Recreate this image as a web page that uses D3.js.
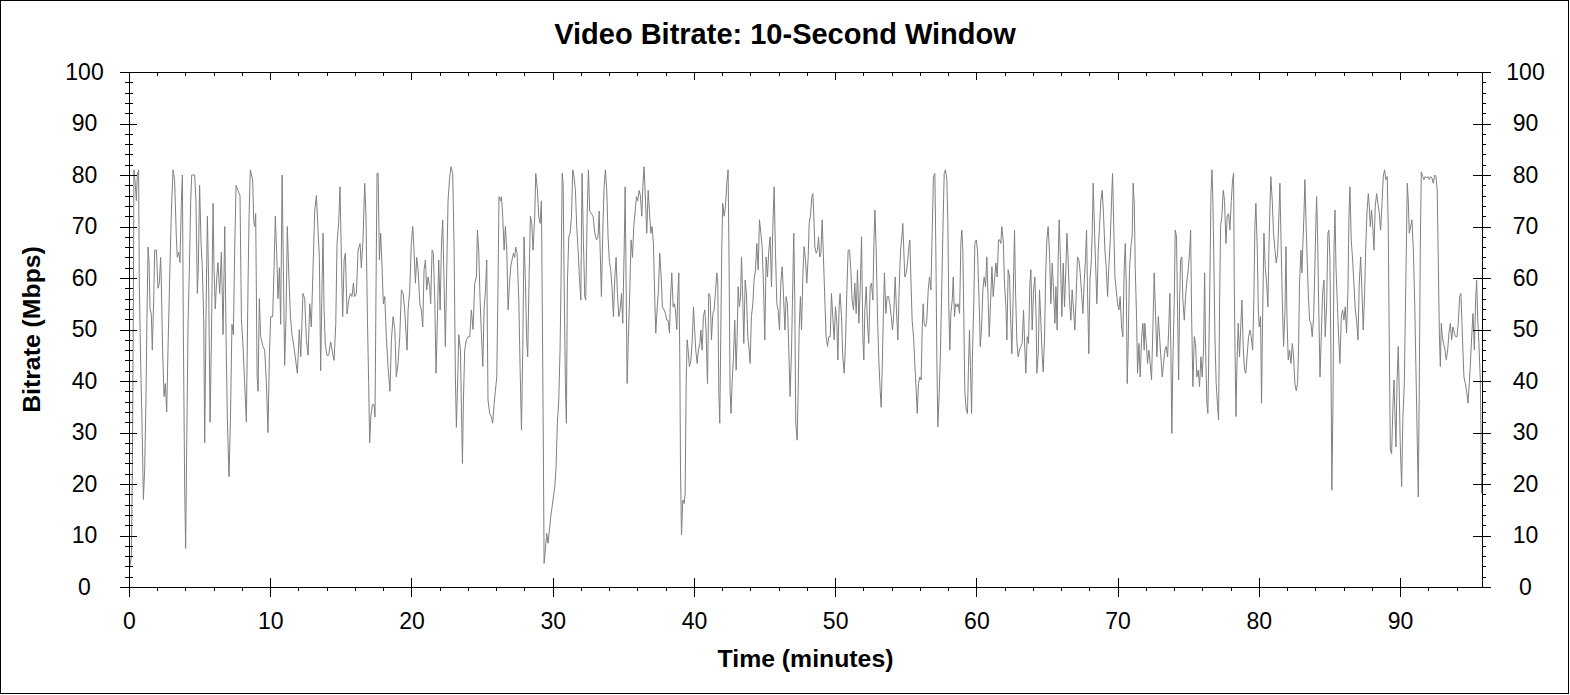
<!DOCTYPE html>
<html lang="en">
<head>
  <meta charset="UTF-8">
  <title>Video Bitrate: 10-Second Window</title>
  <script src="https://d3js.org/d3.v7.min.js"></script>
  <style>
    html, body {
      margin: 0;
      padding: 0;
      background: #fff;
    }
    body {
      font-family: "Liberation Sans", Arial, sans-serif;
    }
    .axis path, .axis line {
      stroke: #000;
      shape-rendering: crispEdges;
    }
    .axis text {
      font-family: "Liberation Sans", Arial, sans-serif;
      fill: #000;
    }
  </style>
</head>
<body>
  <div id="chart"></div>

  <script>
    // time in minutes and 10-second window bitrate (Mbps)
    const timeMin = [
      0.05,0.17,0.24,0.31,0.35,0.45,0.52,0.59,0.68,0.73,
      0.83,0.92,1.02,1.11,1.20,1.27,1.35,1.42,1.49,1.58,
      1.65,1.75,1.82,1.94,2.05,2.15,2.24,2.29,2.38,2.48,
      2.57,2.67,2.76,2.88,3.00,3.12,3.23,3.35,3.42,3.52,
      3.61,3.71,3.78,3.85,3.94,4.01,4.11,4.18,4.30,4.37,
      4.44,4.53,4.65,4.74,4.84,4.91,5.00,5.10,5.19,5.29,
      5.36,5.45,5.55,5.64,5.74,5.83,5.95,6.02,6.11,6.21,
      6.30,6.42,6.54,6.66,6.78,6.87,6.96,7.08,7.18,7.29,
      7.39,7.48,7.58,7.72,7.86,7.96,8.07,8.19,8.31,8.43,
      8.50,8.59,8.76,8.83,8.90,8.97,9.07,9.14,9.23,9.32,
      9.49,9.61,9.73,9.84,9.94,10.03,10.17,10.27,10.36,10.46,
      10.55,10.65,10.74,10.84,10.93,11.02,11.12,11.21,11.31,11.43,
      11.54,11.66,
      11.92,12.06,12.16,12.32,12.44,12.56,12.68,12.80,12.91,13.03,
      13.15,13.27,13.39,13.48,13.57,13.67,13.74,13.81,13.90,14.02,
      14.14,14.28,14.38,14.52,14.64,14.73,14.85,14.94,15.04,15.13,
      15.23,15.32,15.44,15.56,15.68,15.79,15.89,15.98,16.10,16.22,
      16.36,16.45,16.57,16.69,16.78,16.88,16.97,17.04,17.12,17.23,
      17.35,17.42,17.49,17.56,17.64,17.73,17.82,17.92,18.01,18.11,
      18.22,18.34,18.48,18.58,18.70,18.82,18.93,19.05,19.17,19.29,
      19.41,19.52,19.59,19.69,19.76,19.88,19.99,20.09,20.18,20.28,
      20.37,20.47,20.59,20.70,20.80,20.89,20.99,21.08,21.18,21.29,
      21.36,21.46,21.55,21.65,21.74,21.84,21.93,22.03,22.12,22.21,
      22.31,22.40,22.50,22.59,22.71,22.80,22.92,23.02,23.11,23.18,
      23.28,23.35,23.47,23.54,23.61,23.68,23.77,
      23.89,24.01,24.13,24.24,24.36,24.48,24.60,24.67,24.76,24.86,
      24.95,25.05,25.14,25.24,25.33,25.42,25.54,25.66,25.75,25.85,
      25.94,26.04,26.13,26.20,26.30,26.37,26.46,26.56,26.65,26.75,
      26.84,26.94,27.03,27.12,27.22,27.31,27.38,27.48,27.60,27.69,
      27.79,27.88,27.97,28.07,28.16,28.23,28.33,28.42,28.52,28.61,
      28.73,28.80,28.92,29.01,29.11,29.20,29.27,29.34,29.39,29.48,
      29.58,29.67,29.77,29.86,29.96,30.05,30.15,30.24,30.33,30.43,
      30.52,30.59,30.67,30.74,30.81,30.90,30.97,31.04,31.14,31.23,
      31.33,31.42,31.51,31.61,31.70,31.80,31.89,31.99,32.08,32.18,
      32.27,32.34,32.44,32.53,32.62,32.74,32.86,32.98,33.10,33.21,
      33.29,33.38,33.45,33.55,33.64,33.73,33.83,33.92,34.02,34.11,
      34.21,34.30,34.40,34.49,34.58,34.68,34.77,34.87,34.96,35.06,
      35.13,35.20,35.27,35.36,35.46,35.55,35.65,35.74,35.84,35.93,
      36.02,
      36.12,36.21,36.31,36.38,36.47,36.57,36.66,36.76,36.85,36.95,
      37.04,37.13,37.23,37.30,37.39,37.49,37.58,37.68,37.77,37.89,
      37.98,38.08,38.17,38.27,38.34,38.43,38.53,38.62,38.69,38.79,
      38.86,38.93,39.00,39.05,39.12,39.21,39.31,39.38,39.45,39.52,
      39.59,39.68,39.78,39.87,39.97,40.04,40.13,40.23,40.32,40.42,
      40.49,40.58,40.67,40.77,40.86,40.96,41.05,41.15,41.24,41.34,
      41.43,41.52,41.62,41.69,41.76,41.83,41.90,41.97,42.04,42.14,
      42.23,42.33,42.42,42.49,42.56,42.63,42.70,42.80,42.89,42.99,
      43.06,43.13,43.22,43.30,43.37,43.46,43.53,43.63,43.72,43.81,
      43.91,43.98,44.07,44.17,44.26,44.36,44.45,44.55,44.64,44.74,
      44.83,44.92,45.02,45.11,45.21,45.30,45.40,45.49,45.59,45.68,
      45.77,45.87,45.96,46.06,46.15,46.25,46.34,46.44,46.53,46.62,
      46.72,46.81,46.91,47.00,47.07,47.14,47.21,47.31,47.38,47.45,
      47.54,47.62,47.71,47.80,47.90,47.99,48.09,48.16,
      48.25,48.35,48.42,48.49,48.56,48.66,48.75,48.82,48.91,48.99,
      49.08,49.17,49.27,49.36,49.46,49.55,49.65,49.74,49.83,49.93,
      50.02,50.12,50.19,50.28,50.35,50.45,50.54,50.64,50.73,50.83,
      50.92,51.02,51.11,51.20,51.30,51.39,51.49,51.58,51.68,51.77,
      51.87,51.96,52.03,52.10,52.20,52.29,52.38,52.48,52.57,52.67,
      52.74,52.81,52.90,53.00,53.09,53.19,53.26,53.35,53.42,53.49,
      53.59,53.68,53.78,53.87,53.97,54.06,54.15,54.25,54.34,54.44,
      54.53,54.63,54.72,54.79,54.86,54.93,55.03,55.12,55.22,55.29,
      55.36,55.45,55.55,55.64,55.74,55.81,55.90,56.00,56.09,56.16,
      56.23,56.30,56.40,56.49,56.59,56.68,56.78,56.87,56.96,57.06,
      57.13,57.20,57.27,57.37,57.46,57.53,57.63,57.72,57.81,57.91,
      57.98,58.05,58.12,58.19,58.29,58.36,58.45,58.52,58.62,58.71,
      58.81,58.90,58.97,59.04,59.11,59.18,59.28,59.37,59.44,59.51,
      59.58,59.66,59.73,59.82,59.89,59.99,60.08,60.15,60.22,
      60.27,60.36,60.46,60.55,60.65,60.74,60.84,60.91,61.00,61.10,
      61.19,61.28,61.38,61.47,61.57,61.66,61.73,61.80,61.90,61.99,
      62.09,62.16,62.25,62.35,62.42,62.51,62.61,62.70,62.77,62.87,
      62.96,63.05,63.15,63.24,63.34,63.43,63.50,63.60,63.69,63.79,
      63.86,63.95,64.05,64.14,64.23,64.28,64.38,64.47,64.57,64.66,
      64.73,64.83,64.90,64.99,65.08,65.18,65.27,65.37,65.46,65.56,
      65.63,65.72,65.79,65.86,65.96,66.05,66.15,66.24,66.34,66.41,
      66.50,66.59,66.69,66.78,66.88,66.97,67.07,67.16,67.26,67.35,
      67.45,67.54,67.63,67.73,67.80,67.87,67.96,68.04,68.13,68.20,
      68.27,68.37,68.46,68.53,68.63,68.72,68.81,68.91,69.00,69.10,
      69.19,69.29,69.38,69.48,69.57,69.64,69.71,69.81,69.90,70.00,
      70.09,70.18,70.28,70.37,70.47,70.54,70.61,70.68,70.75,70.84,
      70.94,71.03,71.10,71.18,71.25,71.34,71.41,71.51,71.60,71.70,
      71.79,71.88,
      71.93,72.03,72.12,72.21,72.31,72.40,72.50,72.59,72.69,72.78,
      72.88,72.97,73.06,73.16,73.25,73.35,73.44,73.54,73.63,73.70,
      73.77,73.84,73.91,74.01,74.08,74.17,74.25,74.32,74.39,74.46,
      74.55,74.62,74.72,74.81,74.91,75.00,75.10,75.17,75.24,75.33,
      75.43,75.52,75.61,75.71,75.80,75.90,75.99,76.09,76.16,76.23,
      76.32,76.39,76.46,76.53,76.61,76.68,76.75,76.82,76.89,76.98,
      77.08,77.15,77.22,77.29,77.38,77.48,77.57,77.67,77.76,77.86,
      77.95,78.05,78.14,78.21,78.26,78.31,78.38,78.45,78.54,78.63,
      78.73,78.80,78.90,78.99,79.08,79.18,79.27,79.37,79.46,79.56,
      79.65,79.72,79.79,79.89,79.96,80.03,80.12,80.19,80.26,80.36,
      80.45,80.55,80.64,80.71,80.78,80.85,80.95,81.04,81.14,81.23,
      81.33,81.42,81.49,81.56,81.66,81.75,81.85,81.92,81.99,82.08,
      82.18,82.27,82.37,82.46,82.55,82.65,82.74,82.81,82.88,82.98,
      83.05,83.12,83.19,83.26,83.33,83.40,83.50,83.59,83.69,83.78,
      83.88,83.95,84.02,84.09,84.16,84.23,
      84.33,84.42,84.51,84.61,84.70,84.80,84.89,84.96,85.03,85.10,
      85.17,85.25,85.32,85.39,85.46,85.55,85.65,85.74,85.84,85.93,
      86.02,86.12,86.21,86.31,86.38,86.45,86.54,86.64,86.73,86.83,
      86.92,87.02,87.11,87.21,87.30,87.39,87.49,87.56,87.65,87.75,
      87.82,87.89,87.98,88.08,88.15,88.24,88.34,88.43,88.53,88.62,
      88.72,88.81,88.90,89.00,89.09,89.16,89.24,89.31,89.40,89.50,
      89.57,89.64,89.71,89.78,89.87,89.94,90.01,90.11,90.20,90.30,
      90.37,90.44,90.51,90.58,90.65,90.75,90.84,90.94,91.03,91.12,
      91.22,91.29,91.36,91.43,91.50,91.60,91.69,91.78,91.88,91.97,
      92.07,92.16,92.26,92.35,92.45,92.54,92.63,92.71,92.78,92.85,
      92.92,92.99,93.08,93.18,93.27,93.37,93.46,93.56,93.65,93.74,
      93.84,93.93,94.03,94.12,94.22,94.31,94.38,94.45,94.52,94.62,
      94.71,94.81,94.90,94.97,95.07,95.16,95.26,95.35,95.42,95.49,
      95.58,95.68,95.73,95.77
    ];

    const bitrate = [
      4,6,23,56,81,78,75,80,81,59,
      43,32,17,23,36,52,66,63,54,53,
      46,56,65.4,65.4,58,59,64,59,46,37,
      39.5,34,46,60,73,81,79,68,64,65,
      63,75,80,49,20,7.5,33,51,65,75,
      80,80,80,75,57,62,78,67,62,52,
      28,52,72,59,32,47,74.5,62,54,60,
      63,57,65,49,70,49,33,21.4,32,51,
      49,65,78,77,76,52,47,39.5,32,59,
      72,81,79,71,70,72.5,41,38,56,48.6,
      46.7,46,39.5,30,44.7,52.5,52.5,61.6,72,64.8,
      56,62,51,80,62,43,52.5,70,61,52.5,
      49,47,
      41.5,50,44.7,57,56,48,45,55,50.5,62,
      73,76,69,64,42,59,68.7,54,47,45,
      45,47.6,46,44,51,66.7,71,77.7,63.5,52.5,
      63.5,64.8,53,55.7,57,56.4,59,56.4,57,65.4,
      66.7,62,67.4,78.4,72,52.5,39.5,28,33,35.4,
      35.4,33,57.7,80.3,80.3,63.5,68.7,62,55,56.4,
      48.6,42.8,38,48,52.5,50,40.8,43.4,48.6,57.7,
      57,53.8,50.5,46,53.8,57.7,66.7,70,65.4,59,
      64,61.6,55,53.8,50.5,61.6,63.5,57.7,60.2,58.3,
      55,65.4,64.8,55.7,41.5,52.5,63.5,53.8,66,71.3,
      59,46.7,61.6,75,79.7,81.6,80.3,65.4,40.8,31,
      40.8,49,46,34.4,24,36.3,46,
      48,48.6,48.6,53.8,50,59,60.2,69.3,65.4,55.7,
      49.3,42.8,53.8,57.7,63.5,36.3,33.7,33,31.8,35.4,
      38,40.8,59,75.8,75,75.8,72,65.4,70,65.4,
      53.8,59,62.2,63.5,64.8,64,66,64.8,55.7,42.8,
      30.5,46,68,59,48,44.7,60.2,72,70.6,65.4,
      72,80.3,77,72,70.6,75,52.5,26.6,4.6,7.2,
      10.4,8.5,11,13.7,15.6,17.5,19.5,23.4,31.8,36.3,
      46,59,80.3,78.4,59,39.5,31.8,59,68,68.7,
      72,81,79.7,77,70,65.4,60.2,55.7,80.3,66.7,
      56.4,55.7,72,81,73,72.5,72,68.7,67.4,68,
      73,63.5,56.4,69.3,77.7,81,77,68,63,61.6,
      57.7,52.5,60.2,64,57,52.5,53.8,57,51.2,65.4,
      77.7,59,39.5,48.6,57.7,67.4,64,70,73,75.8,
      75,
      77,76,72,77.7,81.6,75,68.7,77,73,68.7,
      70,66.7,55.7,49.3,53.8,57.7,64.8,60.2,54.4,53.8,
      53.1,51.8,51.8,49.3,55.7,61,54.4,55,53.8,50,
      57,61,44.7,22.7,10.1,16.9,16.2,18.2,39.5,48,
      46,42.8,44,47.3,54.4,50.5,46,43.4,46,47.3,
      49.9,46,52.5,53.8,49.9,39.5,57,56.4,48,53.1,
      53.8,57,61,59,38,31.8,48.6,65.4,74.5,72,
      73.9,78.4,81,62.2,38,33.7,39.5,44.7,51.8,42.1,
      48.6,58.3,54.4,56.4,64.1,55.7,47.3,59.6,57,48.6,
      46,43.4,52.5,55,59.6,61.6,66.7,61.6,71.3,68.7,
      66.1,59,48,64.1,60.2,65.4,68,58.3,70,77.7,
      65.4,55,53.8,49.9,59,62.2,57,49.9,56.4,55,
      46,37,46,59,68.7,55.7,31.8,28.5,38,49.9,
      56.4,49.9,60.2,66.1,63.5,59,64.1,70.6,
      72,75.8,76.4,72,66.1,64.8,65.4,68,64.1,64.8,
      71.3,64.1,55.7,48.6,46.7,48.6,48.6,57,52.5,48,
      54.4,51.2,44.1,54.4,57,52.5,44.7,41.5,47.3,57.7,
      65.4,65.4,61.6,55.7,53.8,59,53.1,61.6,51.2,57.7,
      68,48.6,44.1,53.8,58.3,51.2,47.3,58.3,59,55.7,
      66.1,73.2,66.1,52.5,44.1,38,34.9,44.7,53.8,61,
      53.1,56.4,56.4,55,52.5,49.9,53.1,60.2,53.8,48,
      57.7,65.4,68,70.6,65.4,60.2,61,62.9,66.1,67.4,
      60.2,51.8,48.6,43.4,38,33.7,39.5,40.8,40.2,49.9,
      55,51.2,50.5,51.8,57.7,60.2,57.7,68.7,79.7,80.3,
      65.4,44.7,31.1,37.6,46,55.7,69.3,80.3,81,79.1,
      70.6,53.8,46,53.1,55.7,60.2,52.5,55,54.4,55,
      53.1,66.7,69.3,65.4,52.5,38,34.4,33.7,42.8,49.9,
      42.8,33.7,46,55.7,66.7,67.4,65.4,59,53.1,
      46.7,49.9,57.7,60.2,58.3,64.1,55,48.6,55,62.2,
      56.4,59.6,62.9,60.2,67.4,67.4,66.7,70,67.4,59,
      54.4,48,61.6,60.2,52.5,45.3,57,69.3,57.7,47.3,
      44.7,46,46.7,47.3,53.8,46,41.5,48.6,47.3,59,
      61.6,49.9,57.7,60.2,52.5,41.5,45.3,57.7,51.2,44.7,
      41.8,48.6,60.2,67.4,70,64.8,55,62.9,57.7,51.2,
      58.3,49.9,63.5,71.3,62.9,52.5,62.9,54.4,62.2,68.7,
      63.5,55.7,51.8,57.7,53.8,49.9,57,64.1,63.5,61,
      57,53.1,59,64.1,69.3,57,45.3,59.6,62.9,68.7,
      78.4,68.7,61,55,65.4,70,75,77,72.5,65.4,
      62.2,56.4,62.2,67.4,75,80.3,72,60.2,57.7,55,
      53.8,56.4,50.5,48.6,62.2,66.7,59,39.5,47.3,61.6,
      66.1,68,78.4,74.5,61.6,52.5,41.5,47.3,40.8,48.6,
      51.2,46,
      51.2,47.3,43.4,46,43.4,40.2,50.5,61,52.5,44.7,
      52.5,48.6,44.7,40.8,43.4,46,46.7,44.7,51.2,57,
      46,29.8,43.4,55.7,69.3,68,52.5,40.2,55.7,63.5,
      64.1,55.7,51.8,56.4,59.6,61.6,65.4,69.3,52.5,38.9,
      48.6,47.3,40.8,42.1,38.9,44.7,40.8,46.7,61,46,
      35.7,33.7,46,59,76.4,81,74.5,62.2,48.6,39.5,
      34.9,32.4,55,70,72,77,75,66.7,72,72.5,
      69.3,75,79.1,80.3,59,46,33.1,43.4,51.2,44.7,
      51.2,55.7,46,42.1,41.5,45.3,48.6,49.9,48.6,46,
      56.4,70,74.5,65.4,53.8,50.5,52.5,35.7,51.2,68.7,
      62.2,59,54.4,65.4,73.2,79.7,75,68.7,65.4,62.9,
      64.8,72,78.4,68.7,55.7,46.7,53.8,66.1,52.5,44.1,
      46,43.4,47.3,44.7,39.5,38.1,39.5,46,59,65.4,
      61,66.7,72,79.1,72,65.4,57,51.8,51.2,48.6,
      52.5,60.2,68.7,75.8,68,55.7,
      40.8,48.6,57,59.6,48.6,55,68.7,69.3,64.1,46,
      18.8,36.3,65.4,73.2,62.2,55.7,48.6,43.4,52.5,53.8,
      51.8,54.4,49.3,57.7,72,77.7,67.4,63.5,59,53.8,
      51.8,48,59,64.1,57.7,49.9,57,65.4,72.5,76.4,
      73.9,70,73.2,69.3,65.4,73.9,76.4,74.5,72.5,69.3,
      74.5,79.7,81,79.1,79.7,70,46,26.6,25.9,35.7,
      40.2,33.1,27.2,39.5,46.7,38.1,27.9,19.5,33.1,39.5,
      52.5,65.4,78.4,75,68.7,70,71.3,65.4,55.7,42.8,
      27.9,17.5,39.5,65.4,80.6,79.7,79.1,79.7,79.4,79.7,
      79.1,79.7,79.4,78.4,80,79.7,77,62.2,49.3,42.8,
      51.2,48.6,47.3,46,44.1,46,49.3,51.2,48,50.5,
      49.3,48.6,48.6,51.2,56.4,57,51.2,46,40.8,39.5,
      38.1,35.7,39.5,42.8,48.6,53.1,46,55.7,59.6,52.5,
      47.3,40.2,29.8,18.2
    ];

    const xTicksMajor = [0, 10, 20, 30, 40, 50, 60, 70, 80, 90];
    const yTicksMajor = [0, 10, 20, 30, 40, 50, 60, 70, 80, 90, 100];
    const xMax = 95.8;

    const W = 1570, H = 695;
    const plot = {left: 129, right: 1482, top: 72, bottom: 587};

    const svg = d3.select("#chart")
                  .append("svg")
                  .attr("width", W)
                  .attr("height", H)
                  .style("display", "block");

    svg.append("rect")
       .attr("x", 0.5).attr("y", 0.5)
       .attr("width", 1568).attr("height", 693)
       .attr("fill", "#fff")
       .attr("stroke", "#000")
       .attr("shape-rendering", "crispEdges");

    const x = d3.scaleLinear().domain([0, xMax]).range([plot.left, plot.right]);
    const y = d3.scaleLinear().domain([0, 100]).range([plot.bottom, plot.top]);

    const xMinor = d3.range(0, xMax, 2).filter(v => v % 10 !== 0);
    const yMinor = d3.range(0, 100, 2).filter(v => v % 10 !== 0);

    const n = Math.min(timeMin.length, bitrate.length);
    const data = d3.range(n).map(i => ({t: timeMin[i], v: bitrate[i]}));

    // data line (under the axes)
    const line = d3.line()
                   .x(d => x(d.t))
                   .y(d => y(d.v));

    svg.append("path")
       .datum(data)
       .attr("fill", "none")
       .attr("stroke", "#808080")
       .attr("stroke-width", 1)
       .attr("d", line);

    function addAxis(axis, tx, ty, keepLabels) {
      const g = svg.append("g")
                   .attr("class", "axis")
                   .attr("transform", `translate(${tx},${ty})`)
                   .call(axis);
      if (!keepLabels) g.selectAll("text").remove();
      return g;
    }

    // bottom axis: major ticks cross the line, minor ticks hang below
    const bottom = addAxis(d3.axisBottom(x).tickValues(xTicksMajor).tickSize(10)
                             .tickSizeOuter(0).tickPadding(16).tickFormat(d3.format("d")),
                           0, plot.bottom, true);
    bottom.selectAll("text").style("font-size", "23px");
    addAxis(d3.axisTop(x).tickValues(xTicksMajor).tickSize(9).tickSizeOuter(0), 0, plot.bottom, false);
    addAxis(d3.axisBottom(x).tickValues(xMinor).tickSize(4).tickSizeOuter(0), 0, plot.bottom, false);

    // top frame line with inward ticks
    addAxis(d3.axisBottom(x).tickValues(xTicksMajor).tickSize(8).tickSizeOuter(0), 0, plot.top, false);
    addAxis(d3.axisBottom(x).tickValues(xMinor).tickSize(4).tickSizeOuter(0), 0, plot.top, false);

    // left axis: crossing ticks, centered labels
    const left = addAxis(d3.axisLeft(y).tickValues(yTicksMajor).tickSize(9).tickSizeOuter(0),
                         plot.left, 0, true);
    left.selectAll("text")
        .attr("x", 84.5 - plot.left)
        .attr("text-anchor", "middle")
        .style("font-size", "23px");
    addAxis(d3.axisRight(y).tickValues(yTicksMajor).tickSize(8).tickSizeOuter(0), plot.left, 0, false);
    addAxis(d3.axisLeft(y).tickValues(yMinor).tickSize(4).tickSizeOuter(0), plot.left, 0, false);
    addAxis(d3.axisRight(y).tickValues(yMinor).tickSize(4).tickSizeOuter(0), plot.left, 0, false);

    // right axis: crossing major ticks, outward minor ticks
    const right = addAxis(d3.axisRight(y).tickValues(yTicksMajor).tickSize(9).tickSizeOuter(0),
                          plot.right, 0, true);
    right.selectAll("text")
         .attr("x", 1525.5 - plot.right)
         .attr("text-anchor", "middle")
         .style("font-size", "23px");
    addAxis(d3.axisLeft(y).tickValues(yTicksMajor).tickSize(9).tickSizeOuter(0), plot.right, 0, false);
    addAxis(d3.axisRight(y).tickValues(yMinor).tickSize(4).tickSizeOuter(0), plot.right, 0, false);

    // titles
    svg.append("text")
       .attr("x", W / 2)
       .attr("y", 44)
       .attr("text-anchor", "middle")
       .style("font-size", "29px")
       .style("font-weight", "bold")
       .text("Video Bitrate: 10-Second Window");

    svg.append("text")
       .attr("x", (plot.left + plot.right) / 2)
       .attr("y", 667)
       .attr("text-anchor", "middle")
       .style("font-size", "24.8px")
       .style("font-weight", "bold")
       .text("Time (minutes)");

    svg.append("text")
       .attr("transform", `translate(40,${(plot.top + plot.bottom) / 2}) rotate(-90)`)
       .attr("text-anchor", "middle")
       .style("font-size", "24.8px")
       .style("font-weight", "bold")
       .text("Bitrate (Mbps)");
  </script>
</body>
</html>
